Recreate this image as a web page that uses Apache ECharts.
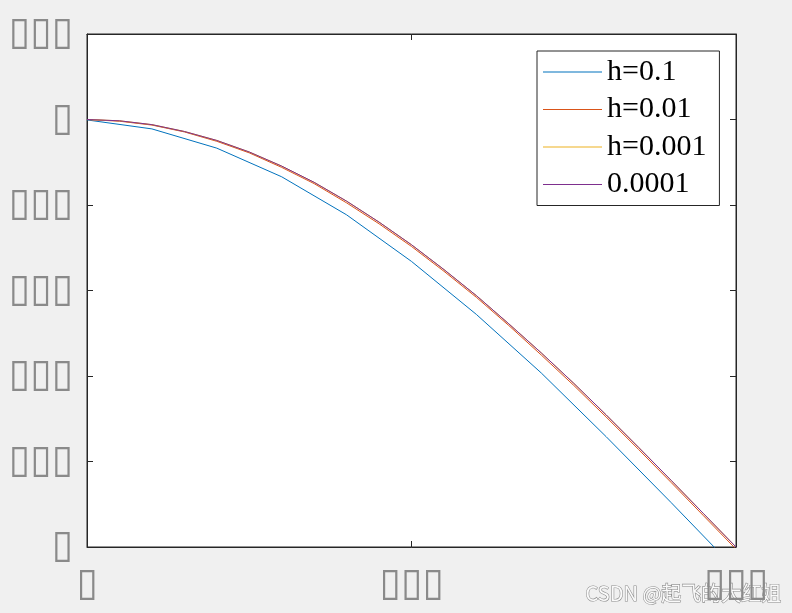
<!DOCTYPE html>
<html>
<head>
<meta charset="utf-8">
<script src="https://cdn.jsdelivr.net/npm/echarts@6/dist/echarts.min.js"></script>
<style>
  html, body { margin: 0; padding: 0; background: #f0f0f0; }
  #chart { width: 792px; height: 613px; }
</style>
</head>
<body>
<div id="chart"></div>
<script>
// step h=0.1 points
const xCoarse = [0, 0.1, 0.2, 0.3, 0.4, 0.5, 0.6, 0.7, 0.8, 0.9, 1.0]
const yH1 = [0.999, 0.978, 0.933, 0.866, 0.777, 0.668, 0.544, 0.407, 0.258, 0.104, -0.053]

// finer steps, sampled every 0.05
const xFine = [0, 0.05, 0.1, 0.15, 0.2, 0.25, 0.3, 0.35, 0.4, 0.45, 0.5,
  0.55, 0.6, 0.65, 0.7, 0.75, 0.8, 0.85, 0.9, 0.95, 1.0]
const yH2 = [1.000, 0.996, 0.987, 0.971, 0.949, 0.922, 0.888, 0.850, 0.805, 0.756, 0.703,
  0.645, 0.584, 0.518, 0.449, 0.378, 0.304, 0.228, 0.151, 0.073, -0.005]
const yH3 = [1.000, 0.997, 0.988, 0.972, 0.951, 0.924, 0.891, 0.853, 0.809, 0.760, 0.707,
  0.649, 0.588, 0.522, 0.454, 0.383, 0.309, 0.233, 0.156, 0.078, 0.000]
const yH4 = [1.000, 0.997, 0.988, 0.972, 0.951, 0.924, 0.891, 0.853, 0.809, 0.760, 0.707,
  0.649, 0.588, 0.522, 0.454, 0.383, 0.309, 0.233, 0.156, 0.078, 0.000]

const seriesNames = ['h=0.1', 'h=0.01', 'h=0.001', '0.0001']
const colors = ['#0072BD', '#D95319', '#EDB120', '#7E2F8E']

// tick labels came out as missing-glyph boxes in the original
const xTickLabels = ['\u25AF', '\u25AF\u25AF\u25AF', '\u25AF\u25AF\u25AF']
const yTickLabels = ['\u25AF', '\u25AF\u25AF\u25AF', '\u25AF\u25AF\u25AF', '\u25AF\u25AF\u25AF',
  '\u25AF\u25AF\u25AF', '\u25AF', '\u25AF\u25AF\u25AF']

const pairs = (xs, ys) => xs.map((x, i) => [x, ys[i]])

const chart = echarts.init(document.getElementById('chart'), null, { renderer: 'canvas' })

const boxLabel = () => ({
  color: '#8a8a8a',
  fontFamily: 'DejaVu Sans',
  fontSize: 39,
})

const tick = () => ({ show: true, inside: true, length: 6, lineStyle: { color: '#262626', width: 1 } })
const line = () => ({ show: true, onZero: false, lineStyle: { color: '#262626', width: 1 } })

chart.setOption({
  animation: false,
  backgroundColor: '#f0f0f0',
  grid: {
    left: 87, right: 56, top: 34, bottom: 66,
    show: true,
    backgroundColor: '#ffffff',
    borderColor: '#262626',
    borderWidth: 1,
  },
  legend: {
    orient: 'vertical',
    left: 537,
    top: 51,
    padding: [6, 13, 6, 6],
    icon: 'rect',
    itemWidth: 59,
    itemHeight: 1,
    itemGap: 7.5,
    backgroundColor: '#ffffff',
    borderColor: '#262626',
    borderWidth: 1,
    borderRadius: 0,
    textStyle: { fontFamily: 'Liberation Serif', fontSize: 30, lineHeight: 30, color: '#000' },
    data: seriesNames,
  },
  xAxis: [
    {
      type: 'value', min: 0, max: 1, interval: 0.5, position: 'bottom',
      axisLine: line(),
      axisTick: tick(),
      splitLine: { show: false },
      axisLabel: { ...boxLabel(), margin: 18, formatter: (v, i) => xTickLabels[i] },
    },
    {
      type: 'value', min: 0, max: 1, interval: 0.5, position: 'top',
      axisLine: line(),
      axisTick: tick(),
      splitLine: { show: false },
      axisLabel: { show: false },
    },
  ],
  yAxis: [
    {
      type: 'value', min: 0, max: 1.2, interval: 0.2, position: 'left',
      axisLine: line(),
      axisTick: tick(),
      splitLine: { show: false },
      axisLabel: { ...boxLabel(), margin: 14, formatter: (v, i) => yTickLabels[i] },
    },
    {
      type: 'value', min: 0, max: 1.2, interval: 0.2, position: 'right',
      axisLine: line(),
      axisTick: tick(),
      splitLine: { show: false },
      axisLabel: { show: false },
    },
  ],
  series: [
    { name: seriesNames[0], data: pairs(xCoarse, yH1) },
    { name: seriesNames[1], data: pairs(xFine, yH2) },
    { name: seriesNames[2], data: pairs(xFine, yH3) },
    { name: seriesNames[3], data: pairs(xFine, yH4) },
  ].map((s, i) => ({
    ...s,
    type: 'line',
    symbol: 'none',
    smooth: false,
    clip: true,
    color: colors[i],
    lineStyle: { color: colors[i], width: 1 },
  })),
  graphic: [
    {
      type: 'text',
      left: 585,
      top: 583,
      style: {
        text: 'CSDN @起飞的大红姐',
        fontFamily: 'Noto Sans CJK SC',
        fontSize: 20,
        fill: '#fafafa',
        stroke: '#8c8c8c',
        lineWidth: 1.2,
      },
    },
  ],
})
</script>
</body>
</html>
